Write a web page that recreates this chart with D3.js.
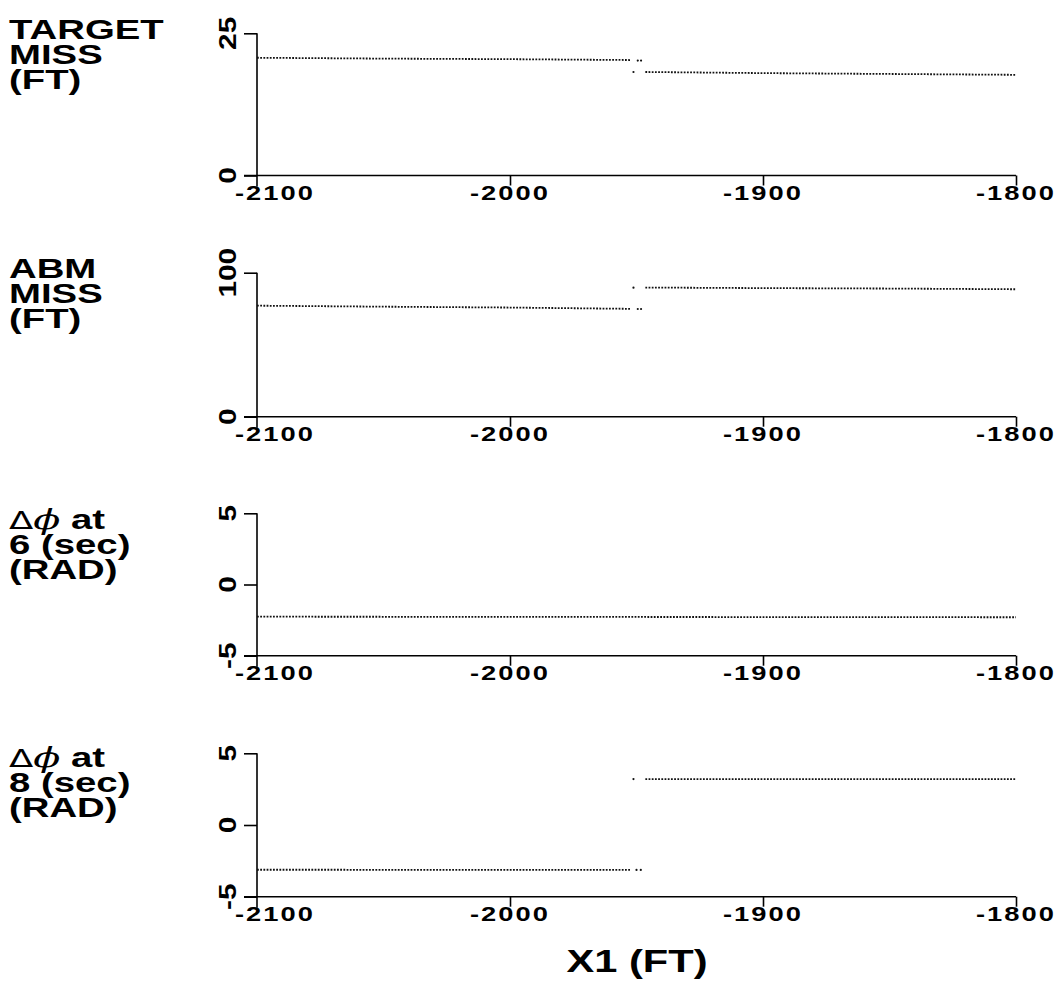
<!DOCTYPE html>
<html>
<head>
<meta charset="utf-8">
<script src="https://cdn.jsdelivr.net/npm/d3@7"></script>
<style>
  html, body { margin: 0; padding: 0; background: #fff; }
  svg { display: block; }
  .axis path, .axis line { stroke: #000; stroke-width: 1.6; }
  .lbl { font-family: "Liberation Sans", Arial, sans-serif; font-weight: bold; fill: #000; }
</style>
</head>
<body>
<div id="chart"></div>
<script>
// --- data ---
const xTicks = [-2100, -2000, -1900, -1800];

// TARGET MISS (FT)
const targetMissA     = [[-2100, 20.7], [-2050, 20.55], [-2000, 20.45], [-1952.5, 20.3]];
const targetMissADots = [[-1949.5, 20.2], [-1948.2, 20.2]];
const targetMissBDots = [[-1951.2, 18.2]];
const targetMissB     = [[-1946.5, 18.2], [-1900, 18.0], [-1850, 17.85], [-1800, 17.7]];

// ABM MISS (FT)
const abmMissA     = [[-2100, 77.1], [-2050, 76.4], [-2000, 75.8], [-1952.5, 74.9]];
const abmMissADots = [[-1949.5, 74.8], [-1948.2, 74.8]];
const abmMissBDots = [[-1951.2, 89.6]];
const abmMissB     = [[-1946.5, 89.7], [-1900, 89.3], [-1850, 89.0], [-1800, 88.5]];

// delta phi at 6 sec (RAD)
const dphi6 = [[-2100, -2.26], [-1950, -2.28], [-1800, -2.3]];

// delta phi at 8 sec (RAD)
const dphi8A     = [[-2100, -3.12], [-1952.5, -3.13]];
const dphi8ADots = [[-1950, -3.13], [-1948.3, -3.13]];
const dphi8BDots = [[-1951.2, 3.2]];
const dphi8B     = [[-1946.5, 3.2], [-1900, 3.2], [-1800, 3.2]];

const panels = [
  { top: 33.3, bottom: 175.5, domain: [0, 25], ticks: [0, 25],
    title: [["TARGET"], ["MISS"], ["(FT)"]], titleY: [39, 64, 89],
    lines: [targetMissA, targetMissB], dots: [...targetMissADots, ...targetMissBDots] },
  { top: 272.7, bottom: 416.7, domain: [0, 100], ticks: [0, 100],
    title: [["ABM"], ["MISS"], ["(FT)"]], titleY: [278, 303, 328],
    lines: [abmMissA, abmMissB], dots: [...abmMissADots, ...abmMissBDots] },
  { top: 513.3, bottom: 655.7, domain: [-5, 5], ticks: [-5, 0, 5],
    title: ["phi", ["6 (sec)"], ["(RAD)"]], titleY: [529, 554, 579],
    lines: [dphi6], dots: [] },
  { top: 753.3, bottom: 896.7, domain: [-5, 5], ticks: [-5, 0, 5],
    title: ["phi", ["8 (sec)"], ["(RAD)"]], titleY: [767, 792, 817],
    lines: [dphi8A, dphi8B], dots: [...dphi8ADots, ...dphi8BDots] }
];

const W = 1061, H = 994;

const svg = d3.select("#chart").append("svg")
  .attr("width", W).attr("height", H);

const x = d3.scaleLinear().domain([-2100, -1800]).range([257, 1016]);

// the lettering of the original is wide, so stretch it horizontally
function stretched(g, px, py, rot, size, anchor, sx) {
  return g.append("text")
    .attr("class", "lbl")
    .attr("font-size", size)
    .attr("text-anchor", anchor)
    .attr("transform", `translate(${px},${py}) rotate(${rot}) scale(${sx},1)`);
}

panels.forEach(p => {
  const y = d3.scaleLinear().domain(p.domain).range([p.bottom, p.top]);
  const g = svg.append("g");

  // y axis: ticks pointing left, rotated labels
  const yAxis = g.append("g")
    .attr("class", "axis")
    .attr("transform", `translate(${x.range()[0]},0)`)
    .call(d3.axisLeft(y).tickValues(p.ticks).tickSizeInner(13).tickSizeOuter(0).tickFormat(""));
  yAxis.select(".domain").remove();
  g.append("line")
    .attr("stroke", "#000").attr("stroke-width", 1.6)
    .attr("x1", x.range()[0]).attr("x2", x.range()[0])
    .attr("y1", p.top).attr("y2", p.bottom + 11);

  p.ticks.forEach(t => {
    stretched(g, 236, y(t), -90, 23, "middle", 1.3).text(String(t));
  });

  // x axis along the bottom of the panel
  const xAxis = g.append("g")
    .attr("class", "axis")
    .attr("transform", `translate(0,${p.bottom})`)
    .call(d3.axisBottom(x).tickValues(xTicks.slice(1)).tickSizeInner(10).tickSizeOuter(0).tickFormat(""));
  xAxis.select(".domain").remove();
  g.append("line")
    .attr("stroke", "#000").attr("stroke-width", 1.6)
    .attr("x1", x.range()[0] - 13).attr("x2", x.range()[1])
    .attr("y1", p.bottom).attr("y2", p.bottom);

  xTicks.forEach((t, i) => {
    const px = i === 0 ? x(t) + 18 : x(t);
    stretched(g, px, p.bottom + 24, 0, 21, "middle", 1.3)
      .attr("letter-spacing", 1.6)
      .text(String(t));
  });

  // panel title on the left
  p.title.forEach((line, i) => {
    const t = stretched(g, 9, p.titleY[i], 0, 27, "start", 1.42);
    if (line === "phi") {
      t.append("tspan").attr("font-family", "DejaVu Sans").attr("font-weight", "normal")
        .attr("font-size", 25).text("\u0394");
      t.append("tspan").attr("font-family", "DejaVu Serif").attr("font-weight", "normal")
        .attr("font-style", "italic").attr("font-size", 28).text("\u03D5");
      t.append("tspan").text(" at");
    } else {
      t.text(line[0]);
    }
  });

  // dotted data traces
  const line = d3.line().x(d => x(d[0])).y(d => y(d[1]));
  p.lines.forEach(series => {
    g.append("path")
      .attr("d", line(series))
      .attr("fill", "none")
      .attr("stroke", "#111")
      .attr("stroke-width", 1.8)
      .attr("stroke-dasharray", "1.8 1.4");
  });

  g.selectAll(".pt")
    .data(p.dots)
    .enter()
    .append("circle")
    .attr("cx", d => x(d[0]))
    .attr("cy", d => y(d[1]))
    .attr("r", 1.1)
    .attr("fill", "#111");
});

// shared x-axis title
stretched(svg, 637, 972, 0, 32, "middle", 1.3).text("X1 (FT)");
</script>
</body>
</html>
